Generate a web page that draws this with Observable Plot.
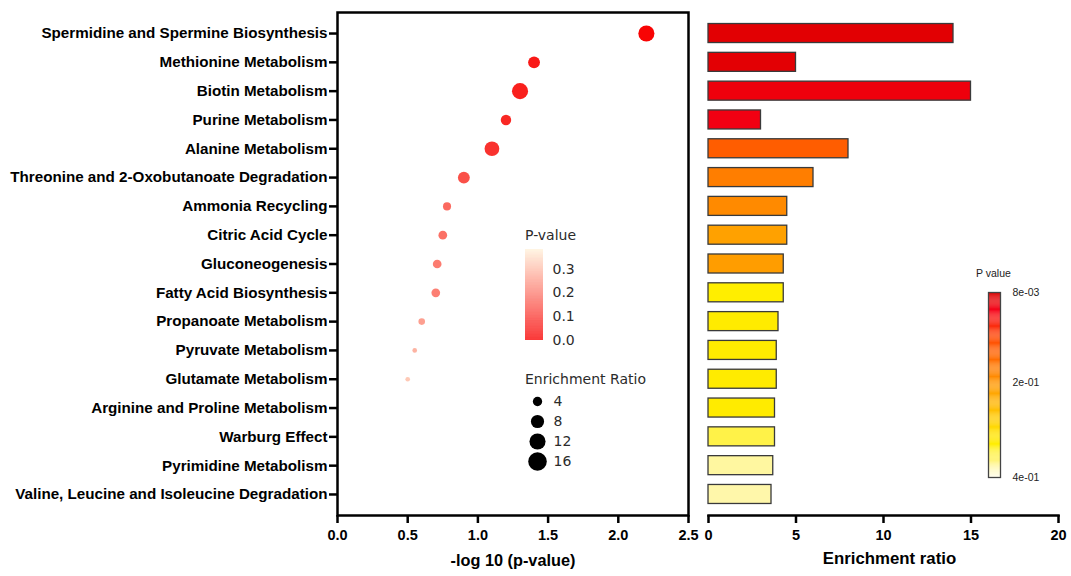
<!DOCTYPE html>
<html><head><meta charset="utf-8">
<script src="https://cdn.jsdelivr.net/npm/d3@7"></script>
<script src="https://cdn.jsdelivr.net/npm/@observablehq/plot@0.6"></script>
<style>
body{margin:0;background:#fff;}
#wrap{position:relative;width:1071px;height:576px;overflow:hidden;background:#fff;}
#wrap > svg{position:absolute;}
.lg{position:absolute;white-space:nowrap;font-family:"DejaVu Sans",sans-serif;font-size:14px;color:#2b2b2b;line-height:1;}
.lg2{position:absolute;white-space:nowrap;font-family:"Liberation Sans",Arial,sans-serif;font-size:10.5px;color:#222;line-height:1;}
</style></head><body><div id="wrap"></div>
<script>
// ---------- data ----------
const pathways = [
  "Spermidine and Spermine Biosynthesis",
  "Methionine Metabolism",
  "Biotin Metabolism",
  "Purine Metabolism",
  "Alanine Metabolism",
  "Threonine and 2-Oxobutanoate Degradation",
  "Ammonia Recycling",
  "Citric Acid Cycle",
  "Gluconeogenesis",
  "Fatty Acid Biosynthesis",
  "Propanoate Metabolism",
  "Pyruvate Metabolism",
  "Glutamate Metabolism",
  "Arginine and Proline Metabolism",
  "Warburg Effect",
  "Pyrimidine Metabolism",
  "Valine, Leucine and Isoleucine Degradation"
];
// dot plot (left): -log10(p) and enrichment ratio (size); last four rows have no dot
const negLog10P = [2.2, 1.4, 1.3, 1.2, 1.1, 0.9, 0.78, 0.75, 0.71, 0.70, 0.60, 0.55, 0.50, null, null, null, null];
const dotRatio  = [12, 6.5, 12, 5, 10, 6.5, 3, 3.5, 3.5, 3.5, 2, 1, 1, null, null, null, null];
// bar chart (right): enrichment ratio and p value (fill)
const barRatio = [14, 5, 15, 3, 8, 6, 4.5, 4.5, 4.3, 4.3, 4.0, 3.9, 3.9, 3.8, 3.8, 3.7, 3.6];
const barP     = [0.02, 0.022, 0.035, 0.04, 0.13, 0.17, 0.185, 0.215, 0.21, 0.33, 0.325, 0.325, 0.325, 0.325, 0.35, 0.375, 0.378];
// axes / legends
const xTicksLeft = [0, 0.5, 1, 1.5, 2, 2.5];
const xTicksRight = [0, 5, 10, 15, 20];
const pLegendTicks = [0, 0.1, 0.2, 0.3];
const sizeLegend = [4, 8, 12, 16];
const barLegendTicks = [0.008, 0.2, 0.4];
const barLegendLabels = ["8e-03", "2e-01", "4e-01"];

// ---------- scales ----------
const yBand = {type: "band", domain: pathways, paddingInner: 0.34, paddingOuter: 0.4, round: false};
const dotColor = {type: "linear", domain: [0, 0.383], range: ["#f80000", "#fff3dc"]};
const rScale = {type: "sqrt", domain: [0, 16], range: [0, 9.3]};
const barColor = {type: "linear",
  domain: [0.008, 0.03, 0.045, 0.106, 0.204, 0.3, 0.33, 0.37, 0.4],
  range: ["#d80000", "#ea0006", "#f60018", "#ff4a00", "#ff9900", "#ffdd00", "#ffee00", "#fff590", "#fffef2"]};

const dotData = pathways.map((name, i) => ({name, x: negLog10P[i], ratio: dotRatio[i],
  p: negLog10P[i] == null ? null : Math.pow(10, -negLog10P[i])})).filter(d => d.x != null);
const barData = pathways.map((name, i) => ({name, ratio: barRatio[i], p: barP[i]}));

const mainStyle = {fontFamily: "'Liberation Sans', Arial, sans-serif", fontWeight: "bold", fontSize: "14px", color: "black", background: "transparent", overflow: "visible"};
const wrap = document.getElementById("wrap");
function place(el, left, top) { el.style.left = left + "px"; el.style.top = top + "px"; wrap.appendChild(el); return el; }
function label(text, cls, left, top) { const d = document.createElement("div"); d.className = cls; d.textContent = text; return place(d, left, top); }

// ---------- left: dot plot ----------
const left = Plot.plot({
  width: 700, height: 576, marginLeft: 337, marginRight: 12, marginTop: 12, marginBottom: 61,
  style: mainStyle,
  x: {domain: [0, 2.5]},
  y: yBand,
  r: rScale,
  color: dotColor,
  marks: [
    Plot.dot(dotData, {x: "x", y: "name", r: "ratio", fill: "p"}),
    Plot.frame({stroke: "black", strokeWidth: 2.5}),
    Plot.axisY({tickSize: 8, tickPadding: 2, strokeWidth: 2.5, fontSize: 15.2, label: null, tickFormat: d => d}),
    Plot.axisX({ticks: xTicksLeft, tickFormat: d3.format(".1f"), tickSize: 8, tickPadding: 6, strokeWidth: 2.5, fontSize: 14.5, label: null}),
    Plot.text(["-log 10 (p-value)"], {text: d => d, frameAnchor: "bottom", dy: 50, fontSize: 16.3})
  ]
});
place(left, 0, 0);

// ---------- right: bar chart ----------
const right = Plot.plot({
  width: 371, height: 576, marginLeft: 8, marginRight: 13, marginTop: 12, marginBottom: 61,
  style: mainStyle,
  x: {domain: [0, 20]},
  y: {...yBand, axis: null},
  color: barColor,
  marks: [
    Plot.barX(barData, {x: "ratio", y: "name", fill: "p", stroke: "#3a3a3a", strokeWidth: 1.3}),
    Plot.frame({anchor: "bottom", stroke: "black", strokeWidth: 2.5}),
    Plot.axisX({ticks: xTicksRight, tickSize: 8, tickPadding: 6, strokeWidth: 2.5, fontSize: 14.5, label: null}),
    Plot.text(["Enrichment ratio"], {text: d => d, frameAnchor: "bottom", dy: 48, dx: 6, fontSize: 16.8})
  ]
});
place(right, 700, 0);

// ---------- legend: P-value colour (dot plot) ----------
const ramp1 = d3.range(0, 0.383, 0.0025);
label("P-value", "lg", 525, 228);
const pLeg = Plot.plot({
  width: 80, height: 125, marginLeft: 10, marginRight: 52, marginTop: 19, marginBottom: 15,
  style: {fontFamily: "'DejaVu Sans', sans-serif", fontSize: "14px", color: "#2b2b2b", background: "transparent", overflow: "visible"},
  x: {domain: [0, 1], axis: null},
  y: {domain: [0, 0.383]},
  color: dotColor,
  marks: [
    Plot.rect(ramp1, {x1: 0, x2: 1, y1: d => d, y2: d => Math.min(d + 0.0026, 0.383), fill: d => d}),
    Plot.axisY({anchor: "right", ticks: pLegendTicks, tickFormat: d3.format(".1f"), tickSize: 0, tickPadding: 9, label: null, fill: "#2b2b2b"})
  ]
});
place(pLeg, 515, 230);

// ---------- legend: Enrichment Ratio size ----------
label("Enrichment Ratio", "lg", 525, 372);
const sLeg = Plot.plot({
  width: 100, height: 91, marginLeft: 22, marginRight: 10, marginTop: 16, marginBottom: 15,
  style: {fontFamily: "'DejaVu Sans', sans-serif", fontSize: "14px", color: "#2b2b2b", background: "transparent", overflow: "visible"},
  y: {type: "point", domain: sizeLegend, padding: 0, axis: null, round: false},
  r: rScale,
  marks: [
    Plot.dot(sizeLegend, {y: d => d, r: d => d, fill: "black", frameAnchor: "left"}),
    Plot.text(sizeLegend, {y: d => d, text: d => String(d), frameAnchor: "left", dx: 16, textAnchor: "start", fill: "#2b2b2b"})
  ]
});
place(sLeg, 515, 385);

// ---------- legend: P value colour (bar chart) ----------
const ramp2 = d3.range(0.008, 0.4, 0.002);
label("P value", "lg2", 976, 268);
const bLeg = Plot.plot({
  width: 100, height: 205, marginLeft: 28, marginRight: 60, marginTop: 10, marginBottom: 10,
  style: {fontFamily: "'Liberation Sans', Arial, sans-serif", fontSize: "10.5px", color: "#222", background: "transparent", overflow: "visible"},
  x: {domain: [0, 1], axis: null},
  y: {domain: [0.008, 0.4], reverse: true},
  color: barColor,
  marks: [
    Plot.rect(ramp2, {x1: 0, x2: 1, y1: d => d, y2: d => Math.min(d + 0.0021, 0.4), fill: d => d}),
    Plot.frame({stroke: "#444", strokeWidth: 1.3}),
    Plot.axisY({anchor: "right", ticks: barLegendTicks, tickFormat: (d, i) => barLegendLabels[i], tickSize: 0, tickPadding: 12, label: null, fill: "#222"})
  ]
});
place(bLeg, 960, 282);
</script></body></html>
